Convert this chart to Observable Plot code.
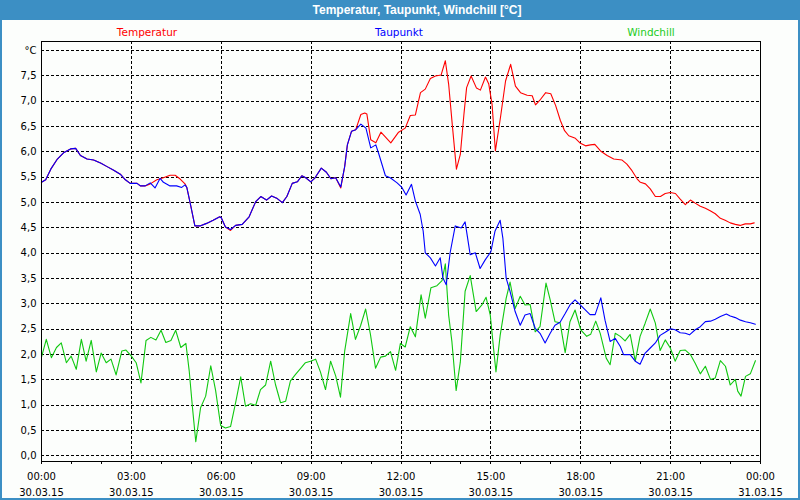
<!DOCTYPE html>
<html><head><meta charset="utf-8">
<script src="https://cdn.jsdelivr.net/npm/d3@7"></script>
<script src="https://cdn.jsdelivr.net/npm/@observablehq/plot@0.6"></script>
<style>
body{margin:0;background:#fff;}
#wrap{position:relative;width:800px;height:500px;background:#fcfefc;overflow:hidden;font-family:"DejaVu Sans",sans-serif;}
#title{position:absolute;left:0;top:0;width:800px;height:20px;background:#3c8fc4;color:#fff;font-weight:bold;font-size:12px;font-family:"Liberation Sans",sans-serif;line-height:20px;text-align:center;text-indent:34px;}
#bord{position:absolute;left:0;top:0;width:796px;height:498px;border:2px solid #3c8fc4;border-top:none;pointer-events:none;}
.leg{position:absolute;top:25px;font-size:10.5px;line-height:14px;transform:translateX(-50%);white-space:nowrap;}
#chart{position:absolute;left:0;top:40px;}
</style></head>
<body>
<div id="wrap">
  <div id="title">Temperatur, Taupunkt, Windchill [°C]</div>
  <div class="leg" style="left:147px;color:#ff0000">Temperatur</div>
  <div class="leg" style="left:399px;color:#0000ff">Taupunkt</div>
  <div class="leg" style="left:651px;color:#22cc22">Windchill</div>
  <div id="chart"></div>
  <div id="bord"></div>
</div>
<script>
// hours since 30.03.15 00:00
const tempH = [0,0.14,0.31,0.53,0.75,0.97,1.14,1.30,1.52,1.74,1.97,2.19,2.41,2.63,2.80,2.96,3.19,3.30,3.46,3.63,3.85,4.07,4.29,4.46,4.62,4.79,4.85,4.96,5.12,5.29,5.51,5.73,5.95,6.0,6.14,6.31,6.48,6.70,6.93,7.15,7.32,7.51,7.68,7.87,8.04,8.19,8.37,8.54,8.69,8.82,8.99,9.13,9.34,9.51,9.66,9.82,9.99,10.12,10.21,10.35,10.49,10.66,10.79,10.86,10.99,11.16,11.33,11.66,11.92,12.14,12.31,12.48,12.65,12.81,12.98,13.15,13.34,13.48,13.59,13.71,13.85,13.98,14.10,14.19,14.34,14.52,14.65,14.82,14.93,15.04,15.15,15.32,15.49,15.66,15.82,15.99,16.21,16.38,16.49,16.66,16.83,17.0,17.16,17.32,17.46,17.6,17.82,17.99,18.16,18.32,18.47,18.66,18.88,19.1,19.38,19.54,19.71,19.88,19.99,20.16,20.32,20.49,20.66,20.82,20.99,21.16,21.32,21.49,21.66,21.82,21.99,22.16,22.32,22.49,22.66,22.82,22.99,23.16,23.32,23.49,23.66,23.79];
const tempV = [5.40,5.45,5.66,5.86,5.99,6.06,6.07,5.93,5.86,5.84,5.78,5.71,5.64,5.56,5.45,5.38,5.38,5.33,5.33,5.37,5.45,5.49,5.54,5.54,5.47,5.37,5.30,5.0,4.54,4.54,4.59,4.65,4.72,4.70,4.52,4.45,4.55,4.57,4.72,5.02,5.12,5.05,5.13,5.08,5.0,5.12,5.38,5.41,5.53,5.49,5.41,5.49,5.68,5.60,5.47,5.49,5.29,5.71,6.14,6.41,6.44,6.74,6.77,6.75,6.24,6.18,6.39,6.18,6.39,6.47,6.72,6.73,7.17,7.24,7.45,7.50,7.52,7.80,7.34,6.55,5.66,5.95,6.74,7.27,7.50,7.26,7.22,7.48,7.34,6.94,6.02,6.68,7.40,7.73,7.30,7.17,7.12,7.11,6.93,7.04,7.17,7.15,6.92,6.62,6.42,6.32,6.27,6.17,6.12,6.14,6.15,6.02,5.93,5.86,5.84,5.76,5.63,5.47,5.40,5.37,5.27,5.12,5.12,5.18,5.20,5.18,5.07,4.96,5.05,4.99,4.93,4.89,4.84,4.78,4.69,4.65,4.60,4.57,4.55,4.58,4.58,4.60];

const dewH = [0,0.14,0.31,0.53,0.75,0.97,1.14,1.30,1.52,1.74,1.97,2.19,2.41,2.63,2.80,2.96,3.19,3.30,3.46,3.63,3.79,3.96,4.07,4.29,4.51,4.68,4.79,4.85,4.96,5.12,5.29,5.51,5.73,5.95,6.0,6.14,6.31,6.48,6.70,6.93,7.15,7.32,7.51,7.68,7.87,8.04,8.19,8.37,8.54,8.69,8.82,8.99,9.13,9.34,9.51,9.66,9.82,9.99,10.12,10.21,10.35,10.49,10.66,10.83,10.99,11.16,11.27,11.48,11.64,11.87,12.03,12.17,12.35,12.48,12.64,12.74,12.81,12.98,13.15,13.31,13.40,13.51,13.64,13.81,14.01,14.14,14.31,14.48,14.64,14.81,15.0,15.14,15.31,15.40,15.51,15.64,15.81,15.98,16.14,16.31,16.48,16.64,16.81,16.98,17.14,17.31,17.48,17.64,17.81,18.0,18.31,18.48,18.67,18.81,18.98,19.15,19.32,19.43,19.65,19.82,19.98,20.15,20.32,20.49,20.65,20.82,21.0,21.15,21.32,21.49,21.63,21.82,21.99,22.16,22.33,22.49,22.66,22.86,22.99,23.16,23.33,23.5,23.66,23.83];
const dewV = [5.40,5.45,5.66,5.86,5.99,6.06,6.07,5.93,5.86,5.84,5.78,5.71,5.64,5.56,5.45,5.38,5.38,5.33,5.33,5.39,5.29,5.48,5.40,5.33,5.33,5.30,5.35,5.30,5.0,4.54,4.54,4.59,4.65,4.72,4.70,4.52,4.47,4.55,4.57,4.72,5.02,5.12,5.05,5.13,5.08,5.0,5.12,5.38,5.41,5.53,5.49,5.41,5.49,5.68,5.60,5.47,5.49,5.31,5.71,6.14,6.41,6.44,6.55,6.47,6.08,6.14,5.94,5.53,5.49,5.39,5.30,5.15,5.36,5.03,4.77,4.44,4.01,3.91,3.75,3.91,3.51,3.38,4.01,4.54,4.50,4.62,3.97,4.01,3.70,3.87,4.03,4.44,4.65,4.30,3.51,3.25,2.85,2.58,2.78,2.81,2.52,2.42,2.23,2.42,2.58,2.64,2.81,2.98,3.08,2.97,2.79,2.79,3.12,2.68,2.26,2.32,2.16,2.0,2.0,1.87,1.81,2.03,2.13,2.23,2.38,2.44,2.51,2.49,2.43,2.42,2.39,2.49,2.55,2.65,2.66,2.70,2.75,2.80,2.76,2.73,2.68,2.65,2.63,2.60];

const windH = [0,0.16,0.33,0.5,0.66,0.83,0.99,1.16,1.33,1.49,1.66,1.83,1.99,2.16,2.32,2.49,2.68,2.82,3.0,3.16,3.32,3.49,3.65,3.82,3.99,4.15,4.32,4.48,4.65,4.82,4.93,5.04,5.15,5.31,5.48,5.65,5.81,5.98,6.14,6.31,6.48,6.65,6.81,6.98,7.15,7.31,7.48,7.65,7.81,7.98,8.15,8.31,8.48,8.65,8.81,8.98,9.15,9.31,9.48,9.65,9.82,9.98,10.12,10.32,10.48,10.65,10.82,10.98,11.15,11.32,11.48,11.65,11.82,11.98,12.14,12.31,12.48,12.67,12.81,13.0,13.2,13.37,13.48,13.59,13.7,13.84,13.98,14.14,14.31,14.51,14.7,14.84,14.98,15.09,15.17,15.31,15.51,15.64,15.81,15.98,16.14,16.31,16.48,16.64,16.84,16.98,17.14,17.31,17.48,17.64,17.81,18.0,18.2,18.33,18.5,18.65,18.85,18.98,19.15,19.32,19.48,19.65,19.82,19.98,20.15,20.32,20.49,20.65,20.82,20.99,21.15,21.32,21.49,21.66,21.82,21.99,22.16,22.33,22.49,22.66,22.83,22.99,23.16,23.24,23.35,23.5,23.66,23.83];
const windV = [1.95,2.30,1.94,2.14,2.23,1.84,1.97,1.71,2.30,1.87,2.28,1.66,2.03,1.84,1.91,1.60,2.07,2.09,1.97,1.84,1.44,2.28,2.34,2.29,2.48,2.24,2.28,2.48,2.14,2.22,1.68,0.95,0.28,0.95,1.18,1.78,1.30,0.60,0.55,0.58,1.05,1.56,0.98,1.03,1.0,1.31,1.40,1.87,1.41,1.05,1.08,1.48,1.61,1.73,1.84,1.87,1.91,1.66,1.31,1.87,1.58,1.16,2.07,2.81,2.30,2.57,2.90,2.40,1.73,1.95,1.97,2.06,1.69,2.22,2.15,2.55,2.35,3.18,2.72,3.32,3.36,3.46,3.79,2.78,2.25,1.29,1.85,3.25,3.56,2.85,2.98,3.13,2.78,2.12,1.66,2.38,3.11,3.43,2.91,3.15,2.98,2.99,2.45,2.55,3.41,3.08,2.65,2.63,2.04,2.65,2.88,2.49,2.36,2.40,2.66,2.42,1.93,1.80,2.42,2.36,2.27,2.40,1.87,2.36,2.62,2.90,2.62,2.08,2.29,2.13,1.87,2.08,2.09,2.0,1.83,1.62,1.77,1.51,1.54,1.88,1.77,1.40,1.51,1.28,1.18,1.57,1.62,1.88];

const yTicks = [0,0.5,1,1.5,2,2.5,3,3.5,4,4.5,5,5.5,6,6.5,7,7.5,8];
const xTicks = [0,3,6,9,12,15,18,21,24];
const xTimeLabels = ["00:00","03:00","06:00","09:00","12:00","15:00","18:00","21:00","00:00"];
const xDateLabels = ["30.03.15","30.03.15","30.03.15","30.03.15","30.03.15","30.03.15","30.03.15","30.03.15","31.03.15"];
const hourTicks = d3.range(0, 25, 1);

const font = "DejaVu Sans";
const chart = Plot.plot({
  width: 800, height: 460,
  marginLeft: 41, marginRight: 40, marginTop: 1, marginBottom: 39,
  style: {background: "transparent", fontFamily: font, fontSize: "10px", color: "#000"},
  x: {domain: [0, 24], axis: null},
  y: {domain: [-0.11, 8.18], axis: null},
  marks: [
    Plot.gridY(yTicks, {stroke: "#000", strokeOpacity: 1, strokeDasharray: "3,2", shapeRendering: "crispEdges"}),
    Plot.gridX(xTicks.slice(1, -1), {stroke: "#000", strokeOpacity: 1, strokeDasharray: "3,2", shapeRendering: "crispEdges"}),
    Plot.axisY({ticks: yTicks, tickSize: 0, tickPadding: 5, label: null, fontSize: 10,
      tickFormat: v => v === 8 ? "°C" : d3.format(".1f")(v).replace(".", ",")}),
    Plot.axisX({ticks: hourTicks, tickSize: 3, tickFormat: () => "", label: null, shapeRendering: "crispEdges"}),
    Plot.axisX({ticks: xTicks, tickSize: 0, tickPadding: 7, label: null, lineHeight: 1.6, fontSize: 10,
      tickFormat: (v) => { const i = xTicks.indexOf(v); return xTimeLabels[i] + "\n" + xDateLabels[i]; }}),
    Plot.line(windV, {x: windH, y: windV, stroke: "#10c810", strokeWidth: 1.1}),
    Plot.line(tempV, {x: tempH, y: tempV, stroke: "#ff0000", strokeWidth: 1.1}),
    Plot.line(dewV, {x: dewH, y: dewV, stroke: "#0000ff", strokeWidth: 1.1}),
    Plot.frame({stroke: "#000", shapeRendering: "crispEdges"})
  ]
});
document.getElementById("chart").appendChild(chart);
</script>
</body></html>
